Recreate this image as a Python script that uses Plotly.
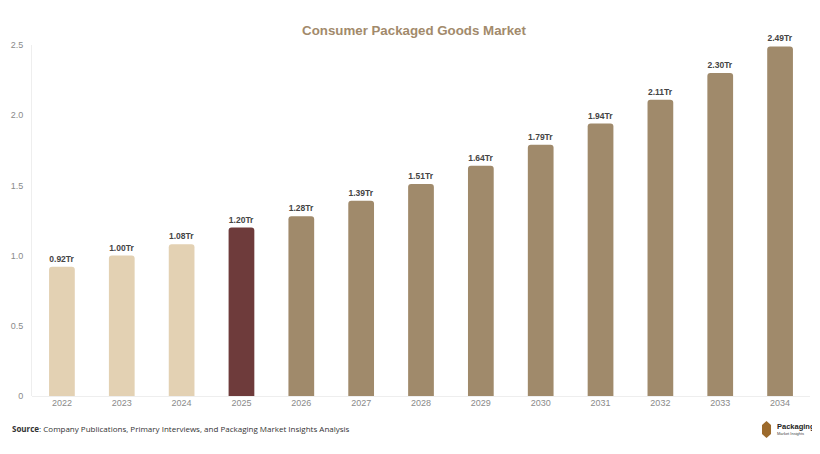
import plotly.graph_objects as go

years = ["2022", "2023", "2024", "2025", "2026", "2027", "2028",
         "2029", "2030", "2031", "2032", "2033", "2034"]
market_value = [0.92, 1.00, 1.08, 1.20, 1.28, 1.39, 1.51,
                1.64, 1.79, 1.94, 2.11, 2.30, 2.49]
value_labels = ["0.92Tr", "1.00Tr", "1.08Tr", "1.20Tr", "1.28Tr", "1.39Tr", "1.51Tr",
                "1.64Tr", "1.79Tr", "1.94Tr", "2.11Tr", "2.30Tr", "2.49Tr"]
y_ticks = [0, 0.5, 1.0, 1.5, 2.0, 2.5]
y_tick_labels = ["0", "0.5", "1.0", "1.5", "2.0", "2.5"]

HIST = "#e3d1b3"
BASE = "#6e3b3b"
FORECAST = "#a08a6b"
bar_colors = [HIST if int(y) < 2025 else BASE if y == "2025" else FORECAST for y in years]

fig = go.Figure()
fig.add_trace(go.Bar(
    x=years, y=market_value,
    marker=dict(color=bar_colors, line=dict(width=0), cornerradius=3),
    width=0.43,
    text=value_labels, textposition="outside", cliponaxis=False,
    textfont=dict(family="Liberation Sans, Arial", size=8.5, color="#444444", weight="bold"),
    hoverinfo="x+y",
))

# page body adds an 8px offset, so the figure is a bit smaller than the window
fig.update_layout(
    width=812, height=446,
    margin=dict(l=24, r=10, t=37, b=58, autoexpand=False),
    paper_bgcolor="white", plot_bgcolor="white",
    showlegend=False,
    title=dict(text="<b>Consumer Packaged Goods Market</b>", x=0.5, xanchor="center",
               y=0.9507, yanchor="middle", automargin=False,
               font=dict(family="Liberation Sans, Arial", size=13.3, color="#a28a6b")),
    xaxis=dict(showgrid=False, showline=False, ticks="", automargin=False,
               tickfont=dict(family="Liberation Sans, Arial", size=9, color="#8a8a8a")),
    yaxis=dict(range=[0, 2.5], tickvals=y_ticks, ticktext=y_tick_labels, automargin=False,
               showgrid=False, zeroline=True, zerolinecolor="#eeeeee", zerolinewidth=1,
               showline=True, linecolor="#eeeeee", linewidth=1, ticks="",
               ticklabelstandoff=6,
               tickfont=dict(family="Liberation Sans, Arial", size=9, color="#8a8a8a")),
    font=dict(family="Liberation Sans, Arial"),
)

# source note
fig.add_annotation(
    text="<b>Source</b>: Company Publications, Primary Interviews, and Packaging Market Insights Analysis",
    xref="paper", yref="paper", x=-0.0283, y=-0.0912, xanchor="left", yanchor="middle",
    showarrow=False, font=dict(family="Open Sans", size=8, color="#333333"),
)

# logo
fig.add_shape(
    type="path", xref="paper", yref="paper",
    path="M 0.9441 -0.0712 L 0.9499 -0.0826 L 0.9499 -0.1083 L 0.9441 -0.1197 "
         "L 0.9383 -0.1083 L 0.9383 -0.0826 Z",
    fillcolor="#9c6a2c", line=dict(width=0),
)
fig.add_annotation(
    text="<b>Packaging</b>", xref="paper", yref="paper", x=0.955, y=-0.0883,
    xanchor="left", yanchor="middle", showarrow=False,
    font=dict(family="Liberation Sans, Arial", size=7.5, color="#222222"),
)
fig.add_annotation(
    text="Market Insights", xref="paper", yref="paper", x=0.955, y=-0.108,
    xanchor="left", yanchor="middle", showarrow=False,
    font=dict(family="Liberation Sans, Arial", size=4, color="#444444"),
)

fig.write_html("out.html")
